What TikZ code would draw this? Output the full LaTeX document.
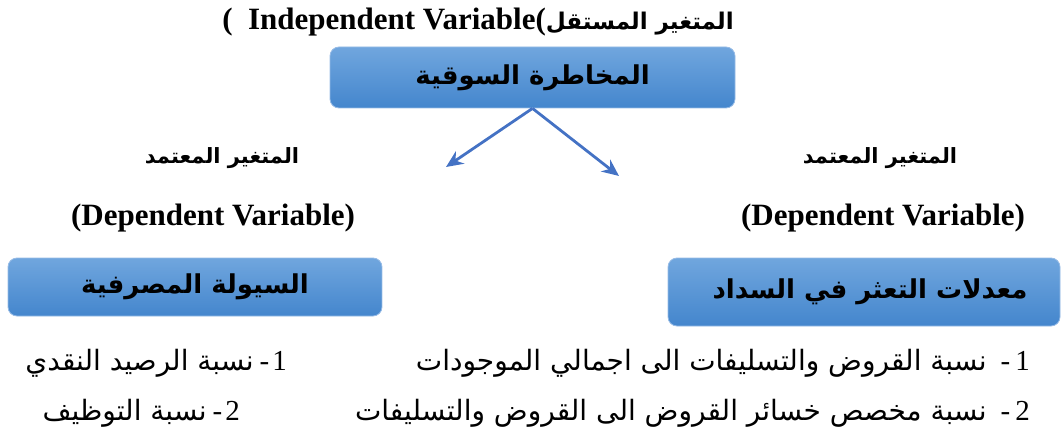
\documentclass[tikz,border=0pt]{standalone}
\usepackage{fontspec}
\setmainfont{Liberation Serif}
\newfontfamily\arabicfont[Script=Arabic]{DejaVu Sans}
\TeXXeTstate=1
\usetikzlibrary{arrows.meta}

\definecolor{boxtop}{RGB}{112,166,222}
\definecolor{boxbot}{RGB}{68,134,205}
\definecolor{boxedge}{RGB}{150,187,230}
\definecolor{arrowblue}{RGB}{68,114,196}

\tikzset{
	varbox/.style={rounded corners=9pt, top color=boxtop, bottom color=boxbot,
		draw=boxedge, line width=0.8pt, inner sep=0pt,
		font=\arabicfont\bfseries\fontsize{26}{30}\selectfont},
	rolelabel/.style={font=\arabicfont\bfseries\fontsize{21}{24}\selectfont},
	englabel/.style={font=\bfseries\fontsize{31}{34}\selectfont},
	itemtext/.style={font=\fontsize{29}{32}\selectfont, anchor=base east, inner sep=0pt},
	arr/.style={-{Stealth[length=17pt,width=15pt]}, line width=2.8pt, arrowblue}
}
\newcommand{\aritem}[1]{{\arabicfont\fontsize{28}{32}\selectfont\beginR #1\endR}}

\begin{document}
\begin{tikzpicture}[x=1pt, y=-1pt]
\useasboundingbox (0, 0) rectangle (1062, 441);

% independent variable
\node[englabel] (indep) at (478, 22) {(\ \ Independent Variable({\arabicfont\fontsize{23}{26}\selectfont\beginR المتغير المستقل\endR}};
\node[varbox, minimum width=405pt, minimum height=61pt] (risk) at (532.5, 77.5) {\beginR المخاطرة السوقية\endR};

% arrows to the two dependent variables
\coordinate (tipL) at (446, 167);
\coordinate (tipR) at (619, 176);
\draw[arr] (risk.south) -- (tipL);
\draw[arr] (risk.south) -- (tipR);

\node[rolelabel] (roleL) at (222, 158) {\beginR المتغير المعتمد\endR};
\node[rolelabel] (roleR) at (880, 158) {\beginR المتغير المعتمد\endR};
\node[englabel] (depL) at (213, 218) {(Dependent Variable)};
\node[englabel] (depR) at (883, 218) {(Dependent Variable)};

\node[varbox, minimum width=374pt, minimum height=58pt] (liq) at (195, 287) {\beginR السيولة المصرفية\endR};
\node[varbox, minimum width=392pt, minimum height=68pt] (default) at (864, 292) {\hspace{12pt}\beginR معدلات التعثر في السداد\endR};

% indicators
\node[itemtext] (defA) at (1030, 370) {\aritem{نسبة القروض والتسليفات الى اجمالي الموجودات}\hspace{14pt}-\hspace{5pt}1};
\node[itemtext] (defB) at (1030, 420) {\aritem{نسبة مخصص خسائر القروض الى القروض والتسليفات}\hspace{14pt}-\hspace{5pt}2};
\node[itemtext] (liqA) at (287, 370) {\aritem{نسبة الرصيد النقدي}\hspace{6pt}-\hspace{3pt}1};
\node[itemtext] (liqB) at (240, 420) {\aritem{نسبة التوظيف}\hspace{6pt}-\hspace{3pt}2};

\end{tikzpicture}
\end{document}
